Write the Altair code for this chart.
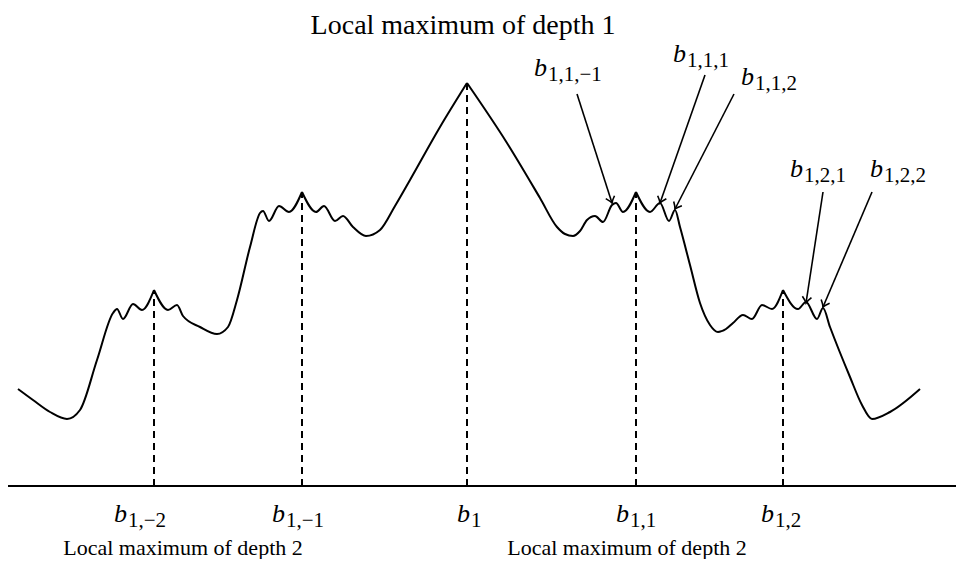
import math
import altair as alt
import pandas as pd

# ---- curve (x, height above the horizontal line) ----
seg_a_x = [18, 33, 50, 67, 80, 97, 113, 117, 123, 133, 142, 154]
seg_a_h = [97, 86, 74, 67, 76, 126, 173, 177, 167, 182, 176, 196]
seg_b_x = [154, 168, 177, 183, 200, 217, 228, 237, 250, 260, 263, 269, 279, 289, 302]
seg_b_h = [196, 176, 181, 170, 159, 152, 159, 186, 239, 273, 275, 265, 280, 274, 294]
seg_c_x = [302, 316, 324, 335, 343, 353, 366, 380, 395, 410, 440, 467]
seg_c_h = [294, 274, 280, 265, 270, 259, 250, 256, 280, 306, 359, 403]
seg_d_x = [467, 507, 540, 557, 565, 573, 580, 587, 595, 603, 612, 616, 623, 636]
seg_d_h = [403, 343, 288, 259, 252, 250, 255, 266, 270, 264, 281, 283, 274, 294]
seg_e_x = [636, 650, 660, 669, 675, 680, 690, 700, 710, 718, 726, 733, 743, 752, 762, 772, 783]
seg_e_h = [294, 274, 283, 265, 276, 259, 221, 183, 161, 154, 157, 163, 171, 167, 181, 177, 196]
seg_f_x = [783, 798, 806, 817, 823, 830, 850, 862, 872, 890, 920]
seg_f_h = [196, 177, 184, 167, 178, 159, 109, 81, 67, 74, 97]

# ---- local maxima (dashed lines) ----
peak_x = [154, 302, 467, 636, 783]
peak_h = [196, 294, 403, 294, 196]
peak_sub = ["1,\u22122", "1,\u22121", "1", "1,1", "1,2"]
peak_label_x = [114, 272, 457, 616, 761]

# ---- arrows ----
arrow_sub = ["1,1,\u22121", "1,1,1", "1,1,2", "1,2,1", "1,2,2"]
arrow_x0 = [577, 705, 734, 823, 872]
arrow_h0 = [392, 411, 392, 294, 294]
arrow_x1 = [612, 660, 675, 806, 823]
arrow_h1 = [283, 283, 277, 183, 179]
arrow_label_x = [534, 673, 741, 790, 870]
arrow_label_h = [410, 424, 401, 309, 309]

# ---- captions ----
title_text = "Local maximum of depth 1"
title_x = 463
title_h = 474
caption_text = ["Local maximum of depth 2", "Local maximum of depth 2"]
caption_x = [183, 627]
caption_h = [-69, -69]

axis_x = [8, 956]

W, H = 948, 551
xs = alt.Scale(domain=[8, 8 + W])
ys = alt.Scale(domain=[478 - H, 478])
FONT = "Liberation Serif"

rows = []
for name, sx, sh in [("a", seg_a_x, seg_a_h), ("b", seg_b_x, seg_b_h), ("c", seg_c_x, seg_c_h),
                     ("d", seg_d_x, seg_d_h), ("e", seg_e_x, seg_e_h), ("f", seg_f_x, seg_f_h)]:
    for i, (x, h) in enumerate(zip(sx, sh)):
        rows.append({"seg": name, "i": i, "x": x, "h": h})
curve_df = pd.DataFrame(rows)

peaks_df = pd.DataFrame({"x": peak_x, "h": peak_h, "sub": peak_sub, "lx": peak_label_x})
peaks_df["zero"] = 0
peaks_df["b"] = "b"
peaks_df["sx"] = peaks_df["lx"] + 14
peaks_df["by"] = -36
peaks_df["sy"] = -41

ang = []
for a, b, c, d in zip(arrow_x0, arrow_h0, arrow_x1, arrow_h1):
    ang.append(math.degrees(math.atan2(-(d - b), c - a)) % 360)
arrows_df = pd.DataFrame({"x0": arrow_x0, "h0": arrow_h0, "x1": arrow_x1, "h1": arrow_h1,
                          "ang": ang, "sub": arrow_sub, "lx": arrow_label_x, "lh": arrow_label_h})
arrows_df["b"] = "b"
arrows_df["sx"] = arrows_df["lx"] + 14
arrows_df["sh"] = arrows_df["lh"] - 5

cap_df = pd.DataFrame({"t": caption_text, "x": caption_x, "h": caption_h})
title_df = pd.DataFrame({"t": [title_text], "x": [title_x], "h": [title_h]})
axis_df = pd.DataFrame({"x": [axis_x[0]], "x2": [axis_x[1]], "h": [0]})

X = lambda f: alt.X(f, type="quantitative", scale=xs, axis=None)
Y = lambda f: alt.Y(f, type="quantitative", scale=ys, axis=None)

axis_line = alt.Chart(axis_df).mark_rule(color="black", strokeWidth=2).encode(
    x=X("x"), x2="x2", y=Y("h"))

dashed = alt.Chart(peaks_df).mark_rule(color="black", strokeWidth=2, strokeDash=[7, 5]).encode(
    x=X("x"), y=Y("zero"), y2="h")

curve = alt.Chart(curve_df).mark_line(color="black", strokeWidth=2, interpolate="monotone").encode(
    x=X("x"), y=Y("h"), detail="seg:N", order="i:Q")

arrow_lines = alt.Chart(arrows_df).mark_rule(color="black", strokeWidth=1.6).encode(
    x=X("x0"), y=Y("h0"), x2="x1", y2="h1")

heads = alt.Chart(arrows_df).mark_point(
    shape="M-1,-0.75 Q-0.35,-0.15 0,0 Q-0.35,0.15 -1,0.75",
    filled=False, color="black", strokeWidth=1.6, size=150, opacity=1).encode(
    x=X("x1"), y=Y("h1"), angle=alt.Angle("ang:Q", scale=None))

b_peak = alt.Chart(peaks_df).mark_text(font=FONT, fontStyle="italic", fontSize=26, align="left",
                                       baseline="alphabetic", color="black").encode(
    x=X("lx"), y=Y("by"), text="b:N")
s_peak = alt.Chart(peaks_df).mark_text(font=FONT, fontSize=21, align="left",
                                       baseline="alphabetic", color="black").encode(
    x=X("sx"), y=Y("sy"), text="sub:N")

b_arr = alt.Chart(arrows_df).mark_text(font=FONT, fontStyle="italic", fontSize=26, align="left",
                                       baseline="alphabetic", color="black").encode(
    x=X("lx"), y=Y("lh"), text="b:N")
s_arr = alt.Chart(arrows_df).mark_text(font=FONT, fontSize=21, align="left",
                                       baseline="alphabetic", color="black").encode(
    x=X("sx"), y=Y("sh"), text="sub:N")

caps = alt.Chart(cap_df).mark_text(font=FONT, fontSize=22, align="center",
                                   baseline="alphabetic", color="black").encode(
    x=X("x"), y=Y("h"), text="t:N")

title = alt.Chart(title_df).mark_text(font=FONT, fontSize=28, align="center",
                                      baseline="top", color="black").encode(
    x=X("x"), y=Y("h"), text="t:N")

chart = alt.layer(axis_line, dashed, curve, arrow_lines, heads, b_peak, s_peak, b_arr, s_arr,
                  caps, title).properties(
    width=W, height=H, padding=0, autosize=alt.AutoSizeParams(type="none")
).configure_view(stroke=None)

chart.save("out.html", embed_options={"renderer": "svg", "actions": False})
